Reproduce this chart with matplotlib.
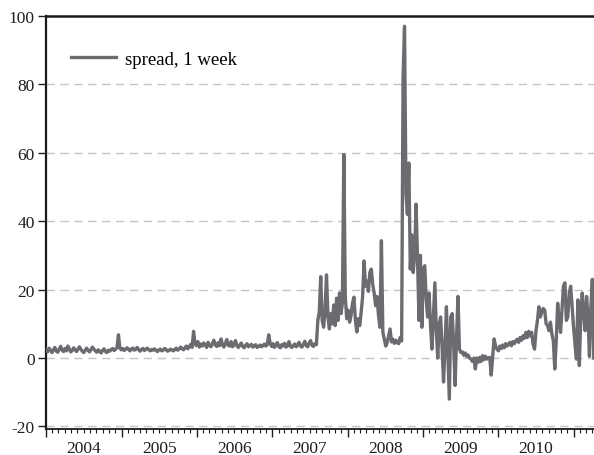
import matplotlib
matplotlib.use("Agg")
import matplotlib.pyplot as plt
import matplotlib.dates as mdates
import matplotlib.transforms as mtransforms
import pandas as pd

# ---- data (weekly spread) ----
spread_2004 = [2.5, 1.8, 2.9, 2.2, 1.6, 2.4, 3.1, 2.0, 1.7, 2.6, 3.4, 2.3, 1.9, 2.8, 2.1, 3.5,
               2.7, 1.8, 2.2, 3.0, 2.4, 1.9, 2.6, 3.3, 2.5, 2.0, 1.6, 2.3, 2.9, 2.2, 1.8, 2.5,
               3.2, 2.6, 2.1, 1.7, 2.4, 2.0, 1.5, 2.2, 2.7, 1.9, 1.6, 2.3, 2.0, 2.5, 2.8, 2.2,
               2.6, 3.0, 6.8, 2.9]
spread_2005 = [2.4, 2.8, 2.2, 2.6, 3.0, 2.5, 2.1, 2.7, 2.9, 2.3, 2.6, 3.1, 2.4, 2.0, 2.5, 2.8,
               2.2, 2.6, 2.9, 2.4, 2.1, 2.5, 2.3, 2.7, 2.2, 1.9, 2.4, 2.6, 2.1, 2.3, 2.8, 2.5,
               2.0, 2.2, 2.6, 2.4, 2.1, 2.5, 2.9, 2.3, 2.6, 3.2, 2.8, 2.4, 3.0, 3.5, 2.7, 3.3,
               4.0, 3.1, 7.8, 4.2]
spread_2006 = [3.6, 4.8, 3.2, 4.1, 3.5, 4.4, 3.9, 3.1, 4.6, 3.7, 3.3, 4.2, 5.2, 3.8, 3.4, 4.5,
               3.6, 5.6, 3.9, 3.2, 4.3, 5.4, 3.7, 3.5, 4.8, 3.3, 3.9, 5.1, 3.6, 3.1, 3.8, 4.4,
               3.4, 3.0, 3.7, 4.2, 3.3, 3.6, 4.0, 3.2, 3.5, 3.9, 3.1, 3.4, 3.8, 3.3, 3.6, 4.1,
               3.5, 3.9, 6.8, 4.3]
spread_2007 = [3.4, 4.2, 3.1, 3.8, 4.5, 3.3, 3.0, 3.9, 3.5, 4.3, 3.2, 3.7, 4.8, 3.4, 3.1, 3.6,
               4.1, 3.3, 3.8, 4.6, 3.5, 3.2, 4.0, 4.9, 3.6, 3.3, 4.4, 5.1, 3.7, 3.4, 4.2, 3.9,
               11.0, 13.5, 23.8, 11.0, 9.0, 14.0, 24.3, 12.0, 8.5, 13.0, 10.0, 15.5, 9.5, 17.5,
               11.0, 19.0, 13.0, 16.0, 59.5, 18.0]
spread_2008 = [11.5, 14.0, 10.5, 12.5, 16.0, 17.8, 11.0, 7.6, 11.5, 9.5, 13.4, 18.0, 28.4, 21.0,
               22.5, 19.5, 25.0, 26.0, 21.5, 19.0, 15.3, 18.0, 12.4, 9.0, 34.3, 7.6, 5.6, 3.5,
               4.5, 6.5, 8.5, 4.7, 5.5, 4.3, 5.2, 4.5, 4.2, 6.0, 5.0, 82.0, 97.0, 48.0, 42.0,
               57.0, 26.0, 36.0, 25.0, 30.0, 45.0, 29.0, 11.0, 30.0]
spread_2009 = [9.0, 26.0, 27.0, 17.0, 12.0, 19.0, 9.5, 2.6, 12.0, 22.0, 8.0, 0.0, 10.0, 12.0,
               3.0, -7.0, 3.0, 15.0, 2.0, -12.0, 12.0, 13.0, 4.0, -8.0, 6.0, 18.0, 2.6, 1.6,
               1.8, 0.8, 1.5, 0.5, 0.9, 0.0, -0.3, -1.0, 0.0, -3.2, 0.0, -1.2, 0.2, -1.0, 0.7,
               -0.5, 0.5, -0.3, 0.0, 0.2, -5.0, 0.5, 5.6, 3.5]
spread_2010 = [2.6, 2.1, 3.5, 2.8, 3.8, 3.0, 4.2, 3.5, 4.0, 4.6, 3.6, 4.8, 4.2, 5.0, 5.5, 4.6,
               6.0, 5.2, 6.5, 5.8, 7.5, 6.0, 7.8, 6.5, 7.5, 4.0, 2.6, 8.0, 11.0, 15.0, 12.0,
               13.5, 14.5, 14.0, 10.0, 9.5, 8.0, 10.5, 7.0, 5.0, -3.2, 5.0, 16.0, 11.0, 7.5,
               14.0, 21.0, 22.0, 11.0, 12.0, 19.0, 21.0]
spread_2011 = [15.0, 9.0, 4.0, -0.3, 17.0, -2.2, 12.0, 19.0, 13.0, 8.0, 18.0, 12.0, 0.5, 15.0,
               23.0, 0.0]

spread = (spread_2004 + spread_2005 + spread_2006 + spread_2007 +
          spread_2008 + spread_2009 + spread_2010 + spread_2011)
dates = pd.date_range("2004-01-02", periods=len(spread), freq="7D")

years = [2004, 2005, 2006, 2007, 2008, 2009, 2010]
y_ticks = [-20, 0, 20, 40, 60, 80, 100]
grid_levels = [-20, 0, 20, 40, 60, 80]
series_label = "spread, 1 week"

# ---- style ----
plt.rcParams["font.family"] = ["Liberation Serif", "DejaVu Serif"]
line_color = "#6b6c70"
text_color = "#1e1e1e"

W, H = 594, 456
fig = plt.figure(figsize=(W / 100, H / 100), dpi=100)
left_px, right_px, top_px, bottom_px = 46, 594, 17, 429.5
ax = fig.add_axes([left_px / W, 1 - bottom_px / H,
                   (right_px - left_px) / W, (bottom_px - top_px) / H])

for g in grid_levels:
    ax.axhline(g, color="#c4c4c4", lw=1.0, ls=(0, (6, 4)), zorder=1)

ax.plot(dates, spread, color=line_color, lw=2.4, solid_joinstyle="round",
        label=series_label, zorder=3)

ax.set_ylim(-20.6, 100)
ax.set_xlim(pd.Timestamp("2004-01-01"), dates[-1] + pd.Timedelta(days=1))

ax.set_yticks(y_ticks)
ax.set_yticklabels([str(v) for v in y_ticks], fontsize=12.5)
ax.tick_params(axis="y", direction="out", length=6, width=1.0, pad=2, colors=text_color)

ax.xaxis.set_major_locator(mdates.YearLocator())
ax.xaxis.set_minor_locator(mdates.MonthLocator())
ax.xaxis.set_major_formatter(plt.NullFormatter())
ax.tick_params(axis="x", which="major", direction="out", length=5.5, width=1.0, colors=text_color)
ax.tick_params(axis="x", which="minor", direction="out", length=3, width=0.8, colors=text_color)

trans = mtransforms.blended_transform_factory(ax.transData, ax.transAxes)
for yr in years:
    ax.text(mdates.date2num(pd.Timestamp(f"{yr}-07-02")), -0.048, str(yr),
            transform=trans, ha="center", va="center", fontsize=12.5, color=text_color)

ax.spines["right"].set_visible(False)
ax.spines["left"].set_linewidth(1.6)
ax.spines["top"].set_linewidth(1.8)
ax.spines["bottom"].set_linewidth(1.3)
for s in ("left", "top", "bottom"):
    ax.spines[s].set_color("#1a1a1a")

leg_x = (71 - left_px) / (right_px - left_px)
leg_y = (bottom_px - 60) / (bottom_px - top_px)
leg = ax.legend(loc="center left", bbox_to_anchor=(leg_x, leg_y), frameon=False,
                fontsize=13.5, handlelength=2.4, handletextpad=0.5,
                borderpad=0, borderaxespad=0)

fig.savefig("out.png", dpi=100)
